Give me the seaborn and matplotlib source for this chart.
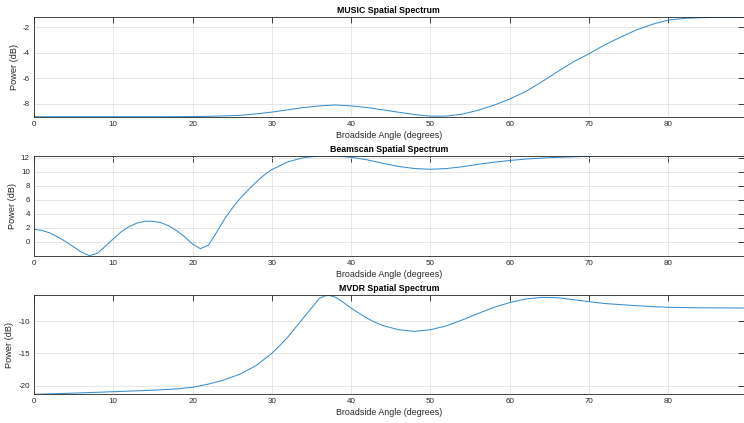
import numpy as np
import pandas as pd
import matplotlib
matplotlib.use("Agg")
import matplotlib.pyplot as plt
import seaborn as sns

# MUSIC spatial spectrum (dB) vs broadside angle (deg)
music_angle = [0, 4, 8, 12, 16, 20, 22, 24, 26, 28, 30, 32, 34, 36, 38, 40, 42, 44, 46,
               48, 50, 52, 54, 56, 58, 60, 62, 64, 66, 68, 70, 72, 74, 76, 78, 80, 82,
               84, 86, 88, 89.5]
music_power = [-9.02, -9.02, -9.02, -9.02, -9.02, -9.01, -8.99, -8.96, -8.91, -8.80,
               -8.66, -8.48, -8.30, -8.17, -8.10, -8.17, -8.30, -8.48, -8.67, -8.85,
               -8.98, -8.97, -8.82, -8.52, -8.12, -7.63, -7.05, -6.30, -5.50, -4.72,
               -4.08, -3.37, -2.77, -2.20, -1.76, -1.43, -1.30, -1.24, -1.22, -1.21,
               -1.21]

# Beamscan spatial spectrum (dB)
beam_angle = [0, 1, 2, 3, 4, 5, 6, 7, 8, 9, 10, 11, 12, 13, 14, 15, 16, 17, 18, 19, 20,
              21, 22, 23, 24, 25, 26, 27, 28, 29, 30, 32, 34, 36, 38, 40, 42, 44, 46, 48,
              50, 52, 54, 56, 58, 60, 62, 65, 70, 75, 80, 85, 89.5]
beam_power = [1.81, 1.65, 1.29, 0.72, 0.05, -0.70, -1.45, -1.95, -1.60, -0.60, 0.45,
              1.45, 2.20, 2.70, 2.95, 2.95, 2.75, 2.30, 1.60, 0.75, -0.30, -0.95, -0.45,
              1.30, 3.20, 4.80, 6.20, 7.40, 8.50, 9.50, 10.30, 11.40, 12.00, 12.26,
              12.25, 12.05, 11.70, 11.20, 10.75, 10.45, 10.35, 10.45, 10.70, 11.05,
              11.35, 11.60, 11.80, 12.00, 12.20, 12.26, 12.28, 12.28, 12.28]

# MVDR spatial spectrum (dB)
mvdr_angle = [0, 5, 10, 15, 18, 20, 22, 24, 26, 28, 30, 31, 32, 33, 34, 35, 36, 37, 38,
              39, 40, 41, 42, 43, 44, 46, 48, 50, 52, 54, 56, 58, 60, 62, 64, 66, 68, 70,
              72, 75, 78, 80, 84, 89.5]
mvdr_power = [-21.33, -21.15, -20.93, -20.70, -20.50, -20.25, -19.75, -19.10, -18.20,
              -16.90, -15.00, -13.80, -12.50, -11.00, -9.50, -8.00, -6.50, -5.98, -6.30,
              -7.10, -8.00, -8.80, -9.55, -10.20, -10.70, -11.35, -11.60, -11.35, -10.75,
              -9.85, -8.85, -7.90, -7.15, -6.60, -6.35, -6.40, -6.70, -7.00, -7.30,
              -7.55, -7.78, -7.88, -7.96, -7.99]

titles = ["MUSIC Spatial Spectrum", "Beamscan Spatial Spectrum", "MVDR Spatial Spectrum"]
x_ticks = [0, 10, 20, 30, 40, 50, 60, 70, 80]
y_ticks = [[-8, -6, -4, -2], [0, 2, 4, 6, 8, 10, 12], [-20, -15, -10]]

sns.set_style("white")
plt.rcParams["font.family"] = ["Liberation Sans", "DejaVu Sans"]
plt.rcParams["axes.unicode_minus"] = False

fig = plt.figure(figsize=(7.44, 4.23), dpi=100)
W, H = 744, 423
left, right = 34, 743.5
boxes = [(17.3, 116.7), (155.7, 255.7), (295.0, 394.3)]

series = [(music_angle, music_power), (beam_angle, beam_power), (mvdr_angle, mvdr_power)]
line_color = "#3a8ed0"
edge = "#262626"

for (top, bottom), (ang, pw), title, yt in zip(boxes, series, titles, y_ticks):
    ax = fig.add_axes([left / W, 1 - bottom / H, (right - left) / W, (bottom - top) / H])
    df = pd.DataFrame({"angle": ang, "power": pw})
    sns.lineplot(data=df, x="angle", y="power", ax=ax, color=line_color, linewidth=0.75)
    ax.set_xlim(0, 89.5)
    ax.set_ylim(min(pw), max(pw))
    ax.set_xticks(x_ticks)
    ax.set_yticks(yt)
    ax.grid(True, color="#e3e3e3", linewidth=0.6)
    ax.set_axisbelow(True)
    for s in ax.spines.values():
        s.set_color(edge)
        s.set_linewidth(0.6)
    ax.tick_params(direction="in", length=4, width=0.6, colors=edge, labelsize=5.8,
                   top=True, right=True, pad=3)
    ax.set_xlabel("Broadside Angle (degrees)", fontsize=6.4, color=edge, labelpad=2)
    ax.set_ylabel("Power (dB)", fontsize=6.6, color=edge, labelpad=3)
    ax.set_title(title, fontsize=6.3, fontweight="bold", color="black", pad=3)

fig.savefig("out.png", dpi=100, facecolor="white")
